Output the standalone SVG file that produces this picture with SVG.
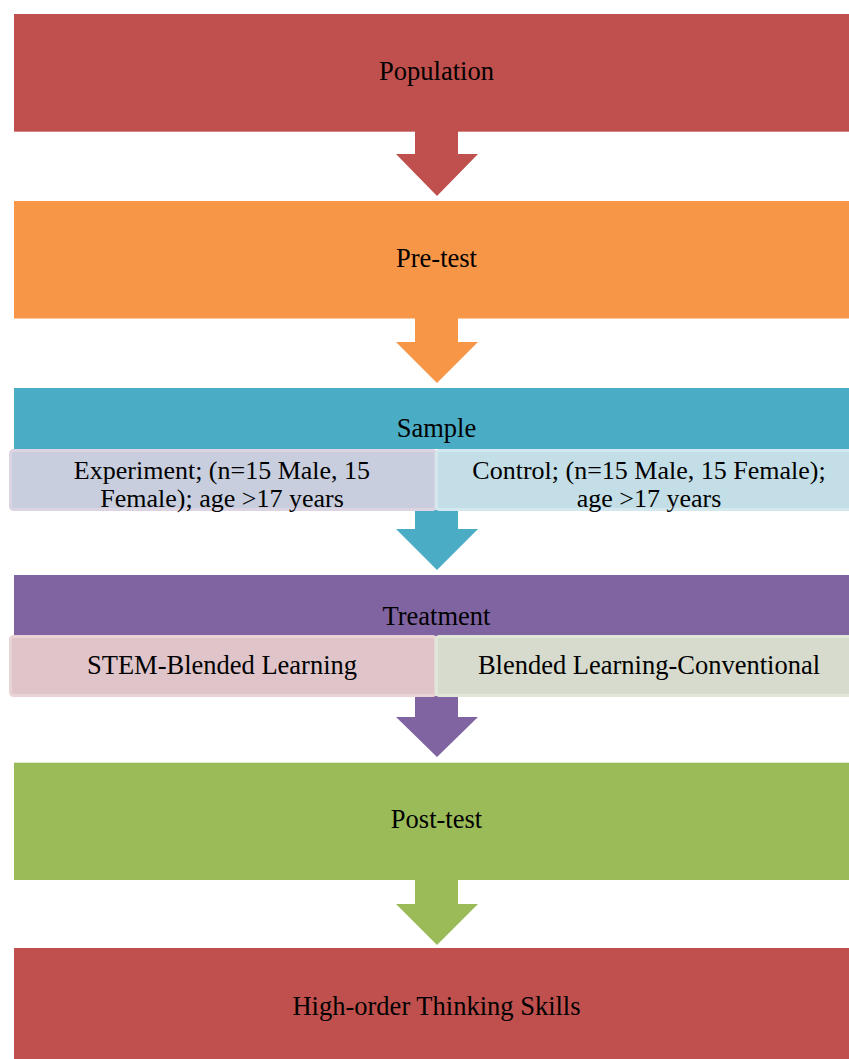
<svg xmlns="http://www.w3.org/2000/svg" width="849" height="1059" viewBox="0 0 849 1059">
<style>
text{font-family:"Liberation Serif","Times New Roman",serif;font-size:26.5px;fill:#000;text-anchor:middle}
text.s2{font-size:26px}
.sub{stroke-width:3}
</style>
<rect width="849" height="1059" fill="#fff"/>
<g id="connectors">
<path d="M415,131 H458 V154 H478 L437,196 L396,154 H415 Z" fill="#c0504d"/>
<path d="M415,318 H458 V342 H478 L437,383 L396,342 H415 Z" fill="#f79646"/>
<path d="M415,510 H458 V529 H478 L437,570 L396,529 H415 Z" fill="#4bacc6"/>
<path d="M415,696 H458 V717 H478 L437,757 L396,717 H415 Z" fill="#8064a2"/>
<path d="M415,880 H458 V904 H478 L437,945 L396,904 H415 Z" fill="#9bbb59"/>
</g>
<g id="population">
<rect x="14" y="14" width="850" height="117.7" fill="#c0504d"/>
<text x="436.5" y="80">Population</text>
</g>
<g id="pretest">
<rect x="14" y="201" width="850" height="117.5" fill="#f79646"/>
<text x="436.5" y="267">Pre-test</text>
</g>
<g id="sample">
<rect x="14" y="388" width="850" height="61" fill="#4bacc6"/>
<text x="436.5" y="437">Sample</text>
</g>
<g id="experiment">
<rect class="sub" x="10.5" y="450.5" width="425" height="59" rx="3" fill="#c8cedd" stroke="#dcd4e3"/>
<text class="s2" x="222" y="478.5">Experiment; (n=15 Male,  15</text>
<text class="s2" x="222" y="507">Female); age &gt;17 years</text>
</g>
<g id="control">
<rect class="sub" x="436.5" y="450.5" width="425" height="59" rx="3" fill="#c3dee6" stroke="#d3e8ee"/>
<text class="s2" x="649" y="478.5">Control; (n=15 Male, 15 Female);</text>
<text class="s2" x="649" y="507">age &gt;17 years</text>
</g>
<g id="treatment">
<rect x="14" y="575" width="850" height="61" fill="#8064a2"/>
<text x="436.5" y="625">Treatment</text>
</g>
<g id="stem">
<rect class="sub" x="10.5" y="636.5" width="425" height="59" rx="3" fill="#dfc5ca" stroke="#e9d3d5"/>
<text x="222" y="674">STEM-Blended  Learning</text>
</g>
<g id="blended">
<rect class="sub" x="436.5" y="636.5" width="425" height="59" rx="3" fill="#d7dbcd" stroke="#e1e7d8"/>
<text x="649" y="674">Blended Learning-Conventional</text>
</g>
<g id="posttest">
<rect x="14" y="762.7" width="850" height="117.3" fill="#9bbb59"/>
<text x="436.5" y="828">Post-test</text>
</g>
<g id="hots">
<rect x="14" y="948" width="850" height="120" fill="#c0504d"/>
<text x="436.5" y="1015">High-order Thinking Skills</text>
</g>
</svg>
